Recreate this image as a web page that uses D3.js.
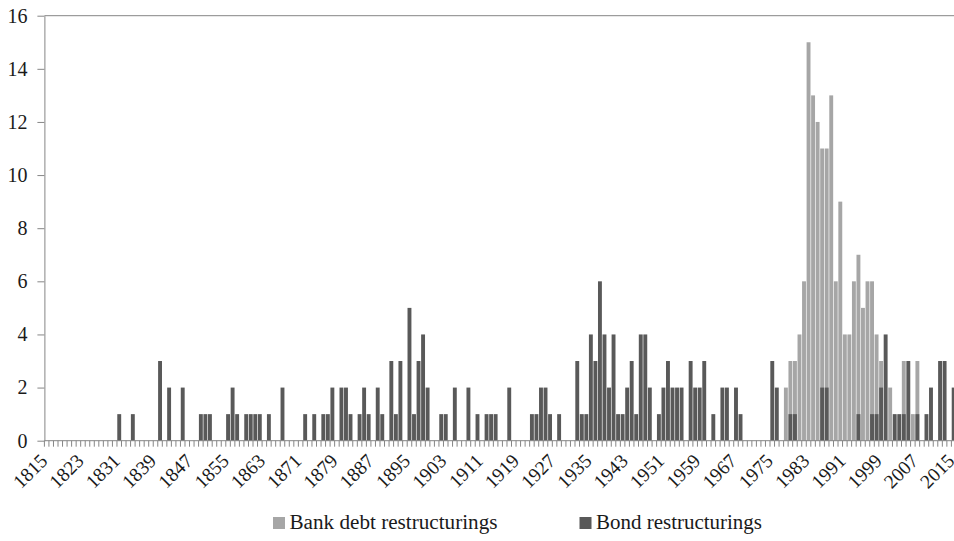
<!DOCTYPE html>
<html><head><meta charset="utf-8">
<script src="https://cdn.jsdelivr.net/npm/d3@7"></script>
</head><body style="margin:0;background:#fff">
<svg id="chart" width="954" height="541" style="display:block"></svg>
<script>
// Categories: one per year, 1815-2015
const years = d3.range(1815, 2016);

// Bank debt restructurings per year (rows of 10 years, starting 1815)
const bankDebt = [
  0,0,0,0,0,0,0,0,0,0,   // 1815
  0,0,0,0,0,0,0,0,0,0,   // 1825
  0,0,0,0,0,0,0,0,0,0,   // 1835
  0,0,0,0,0,0,0,0,0,0,   // 1845
  0,0,0,0,0,0,0,0,0,0,   // 1855
  0,0,0,0,0,0,0,0,0,0,   // 1865
  0,0,0,0,0,0,0,0,0,0,   // 1875
  0,0,0,0,0,0,0,0,0,0,   // 1885
  0,0,0,0,0,0,0,0,0,0,   // 1895
  0,0,0,0,0,0,0,0,0,0,   // 1905
  0,0,0,0,0,0,0,0,0,0,   // 1915
  0,0,0,0,0,0,0,0,0,0,   // 1925
  0,0,0,0,0,0,0,0,0,0,   // 1935
  0,0,0,0,0,0,0,0,0,0,   // 1945
  0,0,0,0,0,0,0,0,0,0,   // 1955
  0,0,0,0,0,0,0,0,0,0,   // 1965
  0,0,0,2,3,3,4,6,15,13, // 1975
  12,11,11,13,6,9,4,4,6,7, // 1985
  5,6,6,4,3,0,2,0,0,3,   // 1995
  0,1,3,0,0,0,0,0,0,0,   // 2005
  0                      // 2015
];

// Bond restructurings per year (rows of 10 years, starting 1815)
const bonds = [
  0,0,0,0,0,0,0,0,0,0,   // 1815
  0,0,0,0,0,0,1,0,0,1,   // 1825
  0,0,0,0,0,3,0,2,0,0,   // 1835
  2,0,0,0,1,1,1,0,0,0,   // 1845
  1,2,1,0,1,1,1,1,0,1,   // 1855
  0,0,2,0,0,0,0,1,0,1,   // 1865
  0,1,1,2,0,2,2,1,0,1,   // 1875
  2,1,0,2,1,0,3,1,3,0,   // 1885
  5,1,3,4,2,0,0,1,1,0,   // 1895
  2,0,0,2,0,1,0,1,1,1,   // 1905
  0,0,2,0,0,0,0,1,1,2,   // 1915
  2,1,0,1,0,0,0,3,1,1,   // 1925
  4,3,6,4,2,4,1,1,2,3,   // 1935
  1,4,4,2,0,1,2,3,2,2,   // 1945
  2,0,3,2,2,3,0,1,0,2,   // 1955
  2,0,2,1,0,0,0,0,0,0,   // 1965
  3,2,0,0,1,1,0,0,0,0,   // 1975
  0,2,2,0,0,0,0,0,0,1,   // 1985
  0,0,1,1,2,4,0,1,1,1,   // 1995
  3,0,1,0,1,2,0,3,3,0,   // 2005
  2                      // 2015
];

const yTickValues = [0, 2, 4, 6, 8, 10, 12, 14, 16];
const xLabelYears = [1815,1823,1831,1839,1847,1855,1863,1871,1879,1887,1895,1903,1911,
                     1919,1927,1935,1943,1951,1959,1967,1975,1983,1991,1999,2007,2015];
const seriesNames = ["Bank debt restructurings", "Bond restructurings"];
const seriesColors = ["#a6a6a6", "#595959"];

const FONT = "'Liberation Serif', 'Times New Roman', Tinos, 'Noto Serif', 'DejaVu Serif', FreeSerif, 'Nimbus Roman', Times, serif";
const svg = d3.select("#chart").attr("font-family", FONT).style("font-family", FONT);
const axisColor = "#868686";
const textColor = "#1a1a1a";

const left = 44.4, step = 4.535;
const x = d3.scaleBand()
  .domain(years)
  .range([left, left + years.length * step])
  .paddingInner(0.14)
  .paddingOuter(0.07);
const y = d3.scaleLinear().domain([0, 16]).range([440.7, 15.7]);

// top line
svg.append("line")
  .attr("x1", left).attr("x2", 954)
  .attr("y1", y(16)).attr("y2", y(16))
  .attr("stroke", axisColor).attr("stroke-width", 1);

// bars: bank debt behind, bonds in front
const bankData = years.map((yr, i) => ({yr, v: bankDebt[i]})).filter(d => d.v > 0);
const bondData = years.map((yr, i) => ({yr, v: bonds[i]})).filter(d => d.v > 0);

svg.append("g").selectAll("rect").data(bankData).join("rect")
  .attr("x", d => x(d.yr)).attr("width", x.bandwidth())
  .attr("y", d => y(d.v)).attr("height", d => y(0) - y(d.v))
  .attr("fill", seriesColors[0]);

svg.append("g").selectAll("rect").data(bondData).join("rect")
  .attr("x", d => x(d.yr)).attr("width", x.bandwidth())
  .attr("y", d => y(d.v)).attr("height", d => y(0) - y(d.v))
  .attr("fill", seriesColors[1]);

// y axis
const yAxis = svg.append("g")
  .attr("transform", `translate(${left},0)`)
  .call(d3.axisLeft(y).tickValues(yTickValues).tickSize(7).tickPadding(10).tickSizeOuter(0));
yAxis.attr("font-family", FONT).attr("font-size", 20);
yAxis.select(".domain").attr("stroke", axisColor);
yAxis.selectAll(".tick line").attr("stroke", axisColor);
yAxis.selectAll(".tick text")
  .style("font-family", FONT).style("font-size", "20px").attr("fill", textColor);

// x axis baseline
svg.append("line")
  .attr("x1", left).attr("x2", 954)
  .attr("y1", y(0)).attr("y2", y(0))
  .attr("stroke", axisColor);

// tick marks between categories
const half = (x.step() - x.bandwidth()) / 2;
const tickXs = years.map(yr => x(yr) - half).concat([x(years[years.length - 1]) + x.bandwidth() + half]);
svg.append("g").selectAll("line").data(tickXs).join("line")
  .attr("x1", d => d).attr("x2", d => d)
  .attr("y1", y(0)).attr("y2", y(0) + 6)
  .attr("stroke", axisColor).attr("stroke-width", 1);

// x labels
svg.append("g").selectAll("text").data(xLabelYears).join("text")
  .attr("transform", d => `translate(${x(d) + x.bandwidth() / 2 + 2},462) rotate(-45)`)
  .attr("text-anchor", "end")
  .style("font-family", FONT).style("font-size", "19.5px")
  .attr("fill", textColor)
  .text(d => d);

// legend
const legendX = [273, 579.5];
const legendTextLen = [208, 166];
const legend = svg.append("g").selectAll("g").data(seriesNames).join("g")
  .attr("transform", (d, i) => `translate(${legendX[i]},0)`);
legend.append("rect")
  .attr("x", 0).attr("y", 517).attr("width", 12).attr("height", 12)
  .attr("fill", (d, i) => seriesColors[i]);
legend.append("text")
  .attr("x", 16.5).attr("y", 529)
  .attr("textLength", (d, i) => legendTextLen[i])
  .attr("lengthAdjust", "spacingAndGlyphs")
  .style("font-family", FONT).style("font-size", "20px")
  .attr("fill", textColor)
  .text(d => d);
</script>
</body></html>
